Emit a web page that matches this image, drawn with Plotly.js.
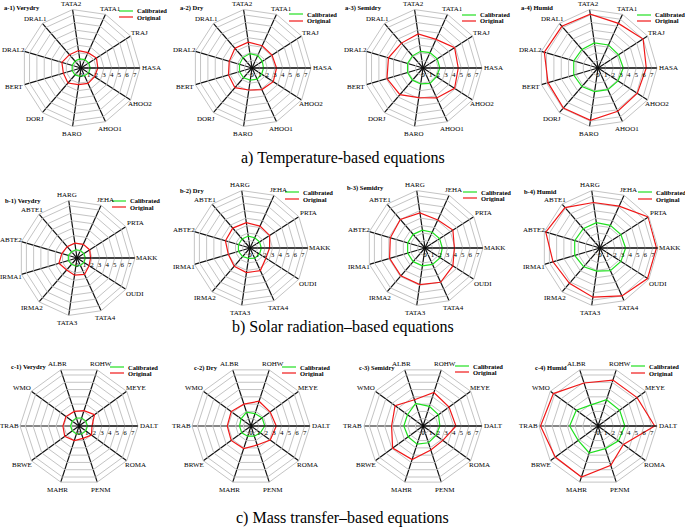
<!DOCTYPE html>
<html>
<head>
<meta charset="utf-8">
<script src="https://cdn.plot.ly/plotly-3.0.1.min.js"></script>
<style>html,body{margin:0;padding:0;background:#fff;}#chart{width:685px;height:531px;}</style>
</head>
<body>
<div id="chart"></div>
<script>
// ---- Data ----
const catsA = ["HASA","AHOO2","AHOO1","BARO","DORJ","BERT","DRAL2","DRAL1","TATA2","TATA1","TRAJ"];
const catsB = ["MAKK","OUDI","TATA4","TATA3","IRMA2","IRMA1","ABTE2","ABTE1","HARG","JEHA","PRTA"];
const catsC = ["DALT","ROMA","PENM","MAHR","BRWE","TRAB","WMO","ALBR","ROHW","MEYE"];

const a1Cal  = [1.2,1.2,1.1,1.1,1.2,1.2,1.2,1.2,1.2,1.2,1.2];
const a1Orig = [2.2,2.1,2.2,2.2,2.6,2.4,2.6,2.3,2.3,2.2,2.4];
const a2Cal  = [1.5,1.5,1.6,1.6,1.7,1.7,1.7,1.8,1.9,1.8,1.6];
const a2Orig = [3.2,3.3,3.1,2.9,3.4,3.2,3.1,3.4,3.4,3.2,3.1];
const a3Cal  = [2.2,2.1,2.2,2.1,2.1,2.1,2.1,2.1,2.2,2.2,2.2];
const a3Orig = [4.6,4.9,4.3,3.9,4.6,4.9,4.7,4.3,4.5,4.1,4.9];
const a4Cal  = [3.3,3.1,3.1,3.1,3.2,3.3,3.3,3.2,3.3,3.3,3.2];
const a4Orig = [6.3,6.1,6.2,6.9,6.9,6.8,7.3,7.2,7.1,6.4,7.0];

const b1Cal  = [1.1,1.1,1.1,1.1,1.1,1.2,1.2,1.1,1.1,1.1,1.1];
const b1Orig = [1.8,1.9,2.4,2.3,2.1,2.5,2.1,2.0,2.0,2.0,2.0];
const b2Cal  = [1.5,1.5,1.5,1.4,1.5,1.6,1.6,1.6,1.6,1.5,1.5];
const b2Orig = [2.6,2.5,3.3,3.3,3.2,3.0,3.4,3.5,3.4,3.2,3.1];
const b3Cal  = [2.3,2.4,2.4,2.4,2.4,2.4,2.4,2.4,2.4,2.3,2.3];
const b3Orig = [3.9,4.4,5.0,4.9,4.9,4.9,4.8,5.0,4.7,4.1,4.4];
const b4Cal  = [3.4,3.3,3.3,3.1,3.3,3.5,3.5,3.4,3.4,3.3,3.3];
const b4Orig = [7.5,7.5,7.0,6.6,6.2,6.5,7.5,7.1,6.1,6.1,7.6];

const c1Cal  = [1.1,1.1,1.1,1.1,1.1,1.1,1.1,1.1,1.1,1.1];
const c1Orig = [1.7,2.0,1.7,2.0,2.3,2.1,2.1,2.0,2.1,2.5];
const c2Cal  = [1.8,1.5,1.4,1.4,1.5,1.5,1.6,1.9,1.7,1.8];
const c2Orig = [3.3,3.1,2.6,3.1,3.2,3.1,3.2,3.0,3.4,3.1];
const c3Cal  = [2.2,2.1,2.3,2.5,2.4,2.5,2.5,3.1,2.7,2.5];
const c3Orig = [4.3,3.2,3.3,4.6,4.9,4.1,4.5,3.6,4.6,4.2];
const c4Cal  = [3.5,3.3,3.1,3.7,3.2,3.7,3.5,2.9,3.6,3.5];
const c4Orig = [7.4,4.1,5.4,7.0,6.9,7.5,7.2,5.9,6.3,6.3];

const panelTitles = ["a-1) Verydry","a-2) Dry","a-3) Semidry","a-4) Humid",
                     "b-1) Verydry","b-2) Dry","b-3) Semidry","b-4) Humid",
                     "c-1) Verydry","c-2) Dry","c-3) Semidry","c-4) Humid"];
const sectionTitles = ["a) Temperature-based equations","b) Solar radiation\u2013based equations","c) Mass transfer\u2013based equations"];
const seriesNames = ["Calibrated","Original"];
const radialTicks = [0,1,2,3,4,5,6,7];

// ---- Layout geometry (pixels) ----
const W = 685, H = 531;
const centers = [[81,68],[252,68],[423,68],[598,68],
                 [77,258],[250,248],[425,248],[600,248],
                 [79,426],[251,426],[423,426],[598,426]];
const R = [59,59,59,59, 58,58,58,58, 59,59,59,59];
const titlePos = [[2,8],[178,8],[343,8],[519,8],
                  [3,201],[178,191],[345,188],[522,192],
                  [9,367],[192,368],[357,368],[533,368]];
// legend key: [line start x, first row y, row 2 y]
const legendPos = [[119,11,17],[289,14,21],[462,15,21],[637,15,21],
                   [112,201,207],[285,192,199],[463,192,198],[638,192,199],
                   [110,367,373],[282,367,373],[455,366,372],[631,366,373]];
const sectionY = [158,327,518];
const COLORS = ["#22e022","#f01818"];

const px = x => x / W;
const py = y => 1 - y / H;

const panels = [
  [catsA,a1Cal,a1Orig],[catsA,a2Cal,a2Orig],[catsA,a3Cal,a3Orig],[catsA,a4Cal,a4Orig],
  [catsB,b1Cal,b1Orig],[catsB,b2Cal,b2Orig],[catsB,b3Cal,b3Orig],[catsB,b4Cal,b4Orig],
  [catsC,c1Cal,c1Orig],[catsC,c2Cal,c2Orig],[catsC,c3Cal,c3Orig],[catsC,c4Cal,c4Orig]
];

const FONT = "Liberation Serif, Times New Roman, serif";
const close = arr => arr.concat([arr[0]]);

const data = [];
const layout = {
  width: W, height: H,
  margin: {l:0, r:0, t:0, b:0},
  paper_bgcolor: "white",
  showlegend: false,
  annotations: [],
  shapes: [],
  font: {family: FONT, color: "black"}
};

panels.forEach((p, i) => {
  const [cats, cal, orig] = p;
  const pid = i === 0 ? "polar" : "polar" + (i + 1);
  const [cx, cy] = centers[i];
  const r = R[i];
  layout[pid] = {
    domain: {x: [px(cx - r), px(cx + r)], y: [py(cy + r), py(cy - r)]},
    gridshape: "linear",
    bgcolor: "rgba(0,0,0,0)",
    radialaxis: {
      range: [0, 7.7], tickvals: radialTicks, ticktext: radialTicks.map(String),
      angle: 0, tickangle: 0, showline: true, linecolor: "black", linewidth: 1.2,
      gridcolor: "#c4c4c4", gridwidth: 1, ticks: "",
      tickfont: {family: FONT, size: 7, color: "black"}
    },
    angularaxis: {
      type: "category", categoryarray: cats, direction: "clockwise", rotation: 0,
      gridcolor: "#111", gridwidth: 1.2, showline: true, linecolor: "#c4c4c4", linewidth: 1,
      ticks: "", showticklabels: false
    }
  };
  [cal, orig].forEach((s, k) => {
    data.push({
      type: "scatterpolar", mode: "lines", subplot: pid,
      r: close(s), theta: close(cats), name: seriesNames[k],
      line: {color: COLORS[k], width: 1.2}, hoverinfo: "skip"
    });
  });
  // category labels, centred just outside each spoke
  const n = cats.length;
  cats.forEach((c, k) => {
    const ang = -k * 2 * Math.PI / n;
    const co = Math.cos(ang), si = Math.sin(ang);
    const lx = cx + co * (r + 11);
    const ly = cy - si * (si > 0 ? r + 6 : r + 8);
    layout.annotations.push({
      text: c, xref: "paper", yref: "paper", x: px(lx), y: py(ly),
      xanchor: "center", yanchor: "middle", showarrow: false,
      font: {family: FONT, size: 7, color: "black"}
    });
  });
  // panel title
  layout.annotations.push({
    text: "<b>" + panelTitles[i] + "</b>", xref: "paper", yref: "paper",
    x: px(titlePos[i][0]), y: py(titlePos[i][1]), xanchor: "left", yanchor: "middle",
    showarrow: false, font: {family: FONT, size: 6.5, color: "black"}
  });
  // legend key
  const [lx0, ly1, ly2] = legendPos[i];
  [ly1, ly2].forEach((yy, k) => {
    layout.shapes.push({
      type: "line", xref: "paper", yref: "paper",
      x0: px(lx0), x1: px(lx0 + 14), y0: py(yy), y1: py(yy),
      line: {color: COLORS[k], width: 1.2}
    });
    layout.annotations.push({
      text: "<b>" + seriesNames[k] + "</b>", xref: "paper", yref: "paper",
      x: px(lx0 + 16), y: py(yy), xanchor: "left", yanchor: "middle",
      showarrow: false, font: {family: FONT, size: 6.5, color: "black"}
    });
  });
});

sectionTitles.forEach((t, j) => {
  layout.annotations.push({
    text: t, xref: "paper", yref: "paper", x: 0.5, y: py(sectionY[j]),
    xanchor: "center", yanchor: "middle", showarrow: false,
    font: {family: FONT, size: 16, color: "black"}
  });
});

Plotly.newPlot("chart", data, layout, {staticPlot: true, displayModeBar: false});
</script>
</body>
</html>
